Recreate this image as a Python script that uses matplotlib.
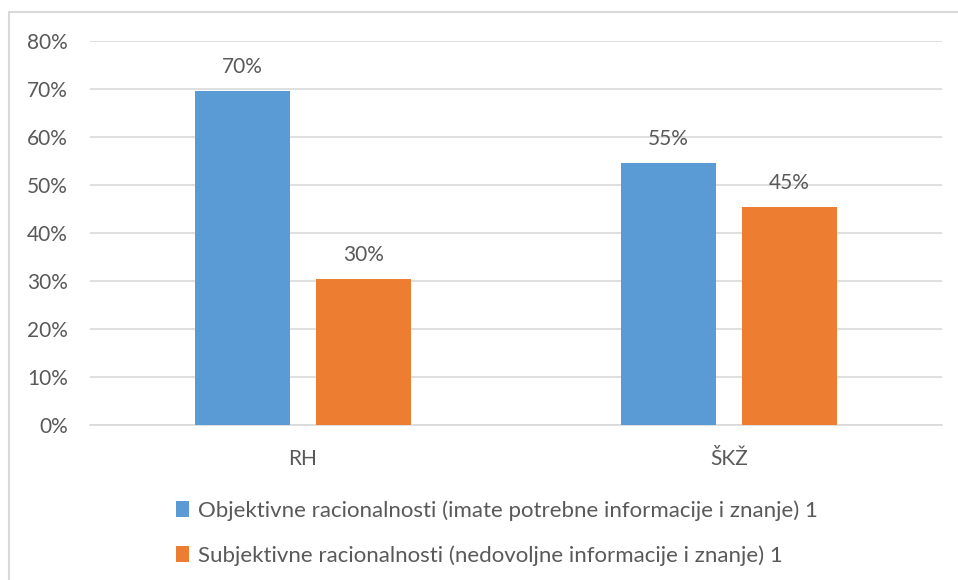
import matplotlib
matplotlib.use("Agg")
import matplotlib.pyplot as plt
import numpy as np
from matplotlib.patches import Rectangle

categories = ["RH", "ŠKŽ"]
series_names = [
    "Objektivne racionalnosti (imate potrebne informacije i znanje) 1",
    "Subjektivne racionalnosti (nedovoljne informacije i znanje) 1",
]
objektivne = [0.696, 0.546]
subjektivne = [0.304, 0.454]
y_ticks = [0, 0.1, 0.2, 0.3, 0.4, 0.5, 0.6, 0.7, 0.8]

colors = ["#5B9BD5", "#ED7D31"]
text_color = "#595959"
plt.rcParams["font.family"] = ["Lato", "DejaVu Sans"]

W, H = 958, 580
fig = plt.figure(figsize=(W / 100, H / 100), dpi=100)
fig.patch.set_facecolor("white")

# outer chart border
fig.add_artist(Rectangle((9 / W, -0.05), 1.2, 1 - 12 / H + 0.05, transform=fig.transFigure,
                         fill=False, edgecolor="#D9D9D9", linewidth=1.5))

ax = fig.add_axes([90 / W, 1 - 425 / H, (942 - 90) / W, (425 - 41) / H])
x = np.arange(len(categories))
width = 0.223
offset = 0.142
series = [objektivne, subjektivne]
bars = []
for i, (vals, c) in enumerate(zip(series, colors)):
    b = ax.bar(x + (i * 2 - 1) * offset, vals, width, color=c, zorder=3, label=series_names[i])
    bars.append(b)
    for rect, v in zip(b, vals):
        ax.annotate(f"{v * 100:.0f}%", (rect.get_x() + rect.get_width() / 2, v),
                    xytext=(0, 17), textcoords="offset points", ha="center", va="center",
                    fontsize=15, color=text_color)

ax.set_xlim(-0.5, 1.5)
ax.set_ylim(0, 0.8)
ax.set_yticks(y_ticks)
ax.set_yticklabels([f"{int(round(t * 100))}%" for t in y_ticks])
ax.set_xticks(x)
ax.set_xticklabels(categories)
ax.yaxis.grid(True, color="#D9D9D9", linewidth=1.2, zorder=0)
ax.set_axisbelow(True)
for s in ["top", "right", "left"]:
    ax.spines[s].set_visible(False)
ax.spines["bottom"].set_color("#D9D9D9")
ax.spines["bottom"].set_linewidth(1.2)
ax.tick_params(axis="both", length=0, colors=text_color, labelsize=15)
ax.tick_params(axis="y", pad=16)
ax.tick_params(axis="x", pad=17)

leg = fig.legend(handles=bars, labels=series_names, loc="center", bbox_to_anchor=(497 / W, 1 - 533 / H),
                 ncol=1, frameon=False, fontsize=16, handlelength=0.6, handleheight=0.7,
                 handletextpad=0.4, labelspacing=1.1, labelcolor=text_color)

fig.savefig("out.png", dpi=100, facecolor="white")
